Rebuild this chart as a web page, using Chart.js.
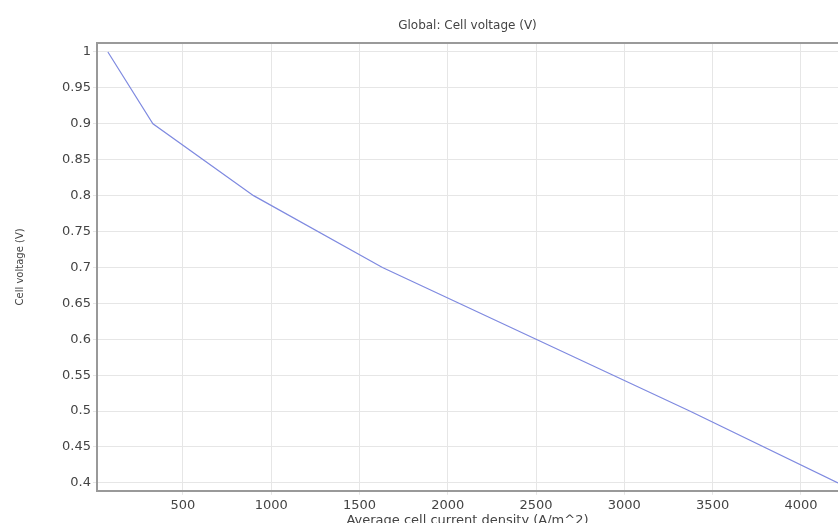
<!DOCTYPE html>
<html>
<head>
    <meta charset="UTF-8">
    <title>Global: Cell voltage (V)</title>
    <script src="https://cdn.jsdelivr.net/npm/chart.js"></script>
    <style>
        body {
            margin: 0;
            padding: 0;
            overflow: hidden;
            background: white;
            font-family: "DejaVu Sans", sans-serif;
        }
        #wrap {
            width: 838px;
            height: 528px;
        }
    </style>
</head>
<body>
    <div id="wrap"><canvas id="cellChart"></canvas></div>

    <script>
        // dados
        var currentDensity = [75, 330, 900, 1630, 2500, 3370, 4210];
        var cellVoltage = [1.0, 0.9, 0.8, 0.7, 0.6, 0.5, 0.4];
        var xTicks = [500, 1000, 1500, 2000, 2500, 3000, 3500, 4000];
        var yTicks = [0.4, 0.45, 0.5, 0.55, 0.6, 0.65, 0.7, 0.75, 0.8, 0.85, 0.9, 0.95, 1];
        var chartTitle = 'Global: Cell voltage (V)';

        var points = currentDensity.map(function (x, i) {
            return { x: x, y: cellVoltage[i] };
        });

        // titulo centrado sobre a area do grafico + borda superior
        var frame = {
            id: 'frame',
            afterDraw: function (chart) {
                var a = chart.chartArea;
                var ctx = chart.ctx;
                ctx.save();
                ctx.strokeStyle = '#9a9a9a';
                ctx.lineWidth = 2;
                ctx.beginPath();
                ctx.moveTo(a.left, a.top);
                ctx.lineTo(a.right, a.top);
                ctx.stroke();

                ctx.fillStyle = '#444';
                ctx.font = '12px "DejaVu Sans"';
                ctx.textAlign = 'center';
                ctx.textBaseline = 'middle';
                ctx.fillText(chartTitle, (a.left + a.right) / 2, 26);
                ctx.restore();
            }
        };

        function plainLabel(value) {
            return String(Math.round(value * 1000) / 1000);
        }

        var ctx = document.getElementById('cellChart').getContext('2d');
        var chart = new Chart(ctx, {
            type: 'line',
            data: {
                datasets: [{
                    label: 'Cell voltage (V)',
                    data: points,
                    borderColor: '#7f8ae0',
                    borderWidth: 1.2,
                    pointRadius: 0,
                    tension: 0,
                    fill: false
                }]
            },
            plugins: [frame],
            options: {
                responsive: true,
                maintainAspectRatio: false,
                animation: false,
                layout: { padding: { left: 14, right: 0, top: 43, bottom: 0 } },
                plugins: {
                    legend: { display: false },
                    tooltip: { enabled: false },
                    title: { display: false }
                },
                scales: {
                    x: {
                        type: 'linear',
                        min: 13,
                        max: 4210,
                        afterBuildTicks: function (scale) {
                            scale.ticks = xTicks.map(function (v) { return { value: v }; });
                        },
                        grid: { color: '#e6e6e6', tickLength: 4 },
                        border: { color: '#999', width: 2 },
                        ticks: {
                            color: '#444',
                            font: { family: 'DejaVu Sans', size: 13 },
                            maxRotation: 0,
                            padding: 3,
                            callback: plainLabel
                        },
                        title: {
                            display: true,
                            text: 'Average cell current density (A/m^2)',
                            color: '#444',
                            font: { family: 'DejaVu Sans', size: 13 },
                            padding: { top: -4, bottom: 0 }
                        }
                    },
                    y: {
                        min: 0.389,
                        max: 1.0125,
                        afterBuildTicks: function (scale) {
                            scale.ticks = yTicks.map(function (v) { return { value: v }; });
                        },
                        grid: { color: '#e6e6e6', tickLength: 4 },
                        border: { color: '#999', width: 2 },
                        ticks: {
                            color: '#444',
                            font: { family: 'DejaVu Sans', size: 13 },
                            padding: 2,
                            callback: plainLabel
                        },
                        title: {
                            display: true,
                            text: 'Cell voltage (V)',
                            color: '#444',
                            font: { family: 'DejaVu Sans', size: 10 },
                            padding: { top: 0, bottom: 34 }
                        }
                    }
                }
            }
        });
    </script>
</body>
</html>
